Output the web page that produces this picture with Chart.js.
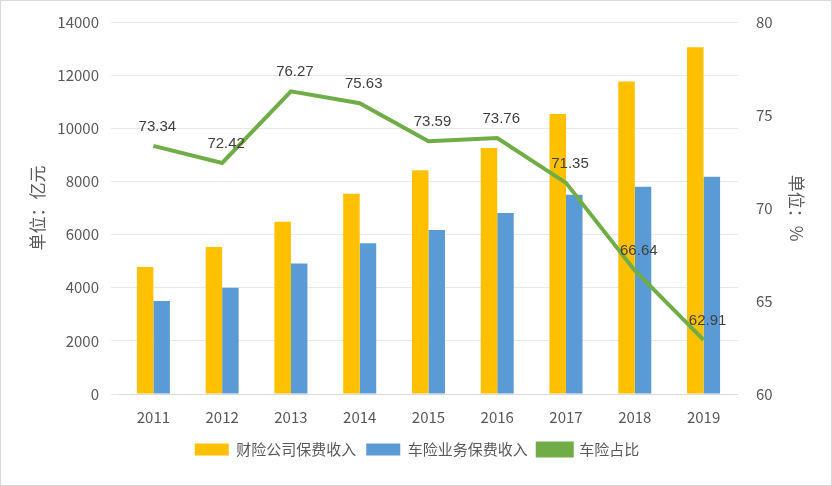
<!DOCTYPE html>
<html><head><meta charset="utf-8">
<script src="https://cdn.jsdelivr.net/npm/chart.js@4"></script>
<style>
html,body{margin:0;padding:0;background:#fff;}
#wrap{position:absolute;left:0;top:0;width:830px;height:484px;border:1px solid #d9d9d9;}
</style></head><body>
<div id="wrap"><canvas id="c"></canvas></div>
<script>
const years = ['2011','2012','2013','2014','2015','2016','2017','2018','2019'];
const propertyIncome = [4780, 5530, 6480, 7540, 8420, 9260, 10540, 11760, 13050];
const autoIncome = [3500, 4000, 4910, 5670, 6170, 6810, 7500, 7800, 8180];
const autoShare = [73.34, 72.42, 76.27, 75.63, 73.59, 73.76, 71.35, 66.64, 62.91];

const font = { family: '"Noto Sans CJK SC", "Liberation Sans", sans-serif', size: 15 };
const grey = '#595959';

const lineLabels = {
  id: 'lineLabels',
  afterDatasetsDraw(chart) {
    const ctx = chart.ctx;
    const meta = chart.getDatasetMeta(2);
    ctx.save();
    ctx.font = '15px "Liberation Sans", sans-serif';
    ctx.fillStyle = '#404040';
    ctx.textAlign = 'center';
    ctx.textBaseline = 'bottom';
    meta.data.forEach((p, i) => {
      ctx.fillText(autoShare[i].toFixed(2), p.x + 4, p.y - 12);
    });
    ctx.restore();
  }
};

new Chart(document.getElementById('c'), {
  data: {
    labels: years,
    datasets: [
      { type: 'bar', label: '财险公司保费收入', data: propertyIncome, backgroundColor: '#FFC000',
        yAxisID: 'y', order: 2, barPercentage: 1, categoryPercentage: 0.48 },
      { type: 'bar', label: '车险业务保费收入', data: autoIncome, backgroundColor: '#5B9BD5',
        yAxisID: 'y', order: 2, barPercentage: 1, categoryPercentage: 0.48 },
      { type: 'line', label: '车险占比', data: autoShare, borderColor: '#70AD47', backgroundColor: '#70AD47',
        borderWidth: 4, pointRadius: 0, yAxisID: 'y1', order: 1, tension: 0 },
    ],
  },
  options: {
    responsive: true,
    maintainAspectRatio: false,
    animation: false,
    layout: { padding: { left: 22, right: 20, top: 14, bottom: 18 } },
    plugins: {
      legend: {
        position: 'bottom',
        labels: {
          color: grey, font,
          generateLabels: chart => chart.data.datasets.map((d, i) => ({
            text: d.label, fillStyle: d.backgroundColor, strokeStyle: d.backgroundColor,
            lineWidth: d.type === 'line' ? 4 : 0, datasetIndex: i, fontColor: grey,
          })),
          boxWidth: 34, boxHeight: 12,
        },
      },
      tooltip: { enabled: false },
    },
    scales: {
      x: { ticks: { color: grey, font, padding: 6 }, grid: { display: false }, border: { color: '#d9d9d9' } },
      y: {
        min: 0, max: 14000,
        afterFit: s => { s.width = 96; },
        ticks: { stepSize: 2000, color: grey, font, callback: v => String(v), padding: 12 },
        grid: { color: '#e8e8e8' }, border: { display: false },
        title: { display: true, text: '单位：亿元', color: grey, font: { ...font, size: 17 } },
      },
      y1: {
        position: 'right', min: 60, max: 80,
        ticks: { stepSize: 5, color: grey, font, padding: 10 },
        grid: { display: false }, border: { display: false },
        title: { display: true, text: '单位：%', color: grey, font: { ...font, size: 17 } },
      },
    },
  },
  plugins: [lineLabels],
});
</script>
</body></html>
